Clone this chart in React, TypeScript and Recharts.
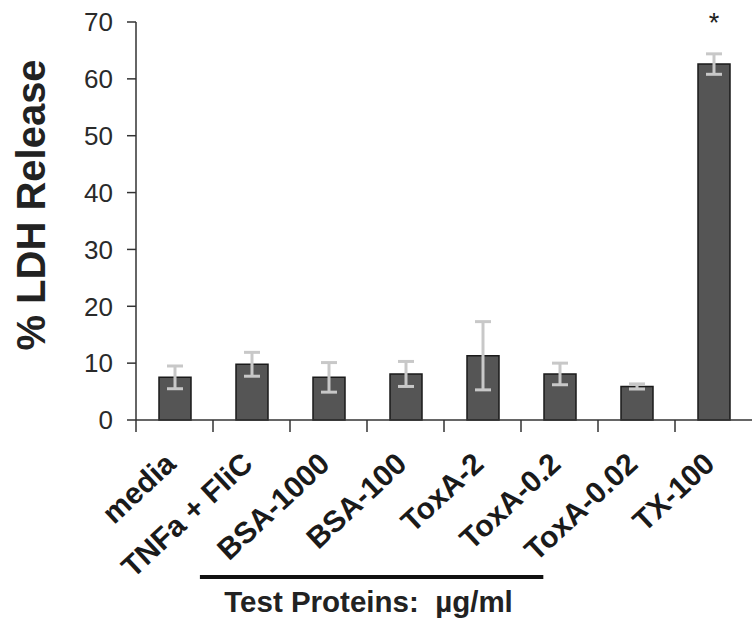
import React from 'react';
import { BarChart, Bar, XAxis, YAxis, ErrorBar, LabelList, Label } from 'recharts';

const categories = ['media', 'TNFa + FliC', 'BSA-1000', 'BSA-100', 'ToxA-2', 'ToxA-0.2', 'ToxA-0.02', 'TX-100'];
const ldhRelease = [7.5, 9.8, 7.5, 8.1, 11.3, 8.1, 5.9, 62.6];
const ldhError = [2.0, 2.1, 2.6, 2.2, 6.0, 1.9, 0.45, 1.8];
const significance = ['', '', '', '', '', '', '', '*'];
const yTicks = [0, 10, 20, 30, 40, 50, 60, 70];

const FONT = '"Liberation Sans", Arial, Helvetica, sans-serif';
const W = 752;
const H = 620;
const Y_AXIS_W = 136;
const catW = (W - Y_AXIS_W) / categories.length;

const data = categories.map((name, i) => ({
  name,
  value: ldhRelease[i],
  err: ldhError[i],
  sig: significance[i],
}));

function CategoryTick(props: any) {
  const { x, y, payload } = props;
  const tx = x + 3;
  const ty = y + 46;
  return (
    <g>
      <line x1={x - catW / 2} y1={y} x2={x - catW / 2} y2={y + 12} stroke="#333" strokeWidth={1.5} />
      <text
        x={tx}
        y={ty}
        transform={`rotate(-43, ${tx}, ${ty})`}
        textAnchor="end"
        fontSize={30}
        fontWeight="bold"
        fontFamily={FONT}
        fill="#1a1a1a"
      >
        {payload.value}
      </text>
    </g>
  );
}

function GroupLabel(props: any) {
  const vb = props.viewBox;
  const x1 = vb.x + catW * 0.83;
  const x2 = vb.x + catW * 5.29;
  return (
    <g>
      <line x1={x1} y1={vb.y + 157} x2={x2} y2={vb.y + 157} stroke="#111" strokeWidth={4} />
      <text
        x={vb.x + catW * 3.02}
        y={vb.y + 192}
        textAnchor="middle"
        fontSize={29.5}
        fontWeight="bold"
        fontFamily={FONT}
        fill="#222"
      >
        {'Test Proteins:\u00A0 µg/ml'}
      </text>
    </g>
  );
}

function YTitle(props: any) {
  const vb = props.viewBox;
  const x = vb.x + 45;
  const y = vb.y + vb.height / 2 - 16;
  return (
    <text
      x={x}
      y={y}
      transform={`rotate(-90, ${x}, ${y})`}
      textAnchor="middle"
      fontSize={40}
      fontWeight="bold"
      fontFamily={FONT}
      fill="#222"
    >
      % LDH Release
    </text>
  );
}

function StarLabel(props: any) {
  const { x, y, width, value } = props;
  if (!value) return null;
  return (
    <text x={x + width / 2} y={y - 32} textAnchor="middle" fontSize={27} fontFamily={FONT} fill="#222">
      {value}
    </text>
  );
}

export default function App() {
  return (
    <div style={{ width: W, height: H, background: '#fff' }}>
      <style>{'body{margin:0}'}</style>
      <BarChart width={W} height={H} data={data} margin={{ top: 22, right: 0, bottom: 0, left: 0 }}>
        <XAxis
          dataKey="name"
          height={200}
          interval={0}
          tickLine={false}
          tickSize={0}
          tickMargin={0}
          axisLine={{ stroke: '#333', strokeWidth: 1.5 }}
          tick={CategoryTick}
        >
          <Label content={GroupLabel} />
        </XAxis>
        <YAxis
          width={Y_AXIS_W}
          domain={[0, 70]}
          ticks={yTicks}
          interval={0}
          tickSize={9}
          tickMargin={14}
          axisLine={{ stroke: '#333', strokeWidth: 1.5 }}
          tickLine={{ stroke: '#333', strokeWidth: 1.5 }}
          tick={{ fontSize: 26, fill: '#2a2a2a', fontFamily: FONT }}
        >
          <Label content={YTitle} />
        </YAxis>
        <Bar dataKey="value" fill="#555555" stroke="#1a1a1a" strokeWidth={1.5} barSize={32} isAnimationActive={false}>
          <ErrorBar dataKey="err" width={8} stroke="#c8c8c8" strokeWidth={3} isAnimationActive={false} />
          <LabelList dataKey="sig" content={StarLabel} />
        </Bar>
      </BarChart>
    </div>
  );
}
